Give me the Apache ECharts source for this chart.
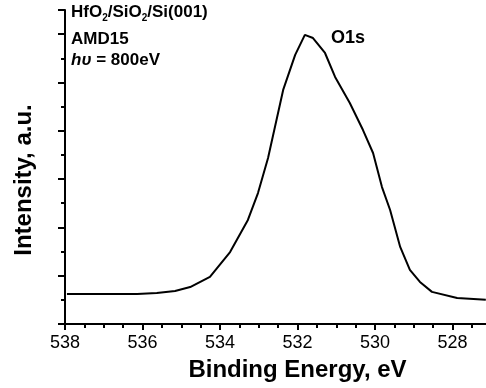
<!DOCTYPE html>
<html>
<head>
    <meta charset="utf-8">
    <script src="https://cdn.jsdelivr.net/npm/echarts@6/dist/echarts.min.js"></script>
    <style>
        html, body { margin: 0; padding: 0; background: #fff; }
    </style>
</head>
<body>
<div id="main" style="width: 486px;height:388px;"></div>

<script type="text/javascript">
    // binding energy (eV) and intensity (a.u.)
    var energy = [537.95, 537.02, 536.14, 535.63, 535.16, 534.77, 534.26, 533.74, 533.28, 533.02,
        532.76, 532.37, 532.06, 531.81, 531.60, 531.29, 531.03, 530.65, 530.31, 530.05,
        529.82, 529.61, 529.35, 529.10, 528.84, 528.53, 527.88, 527.14];
    var intensity = [1.24, 1.24, 1.24, 1.28, 1.37, 1.53, 1.95, 2.98, 4.31, 5.42,
        6.87, 9.69, 11.14, 11.97, 11.84, 11.22, 10.23, 9.15, 8.03, 7.08,
        5.67, 4.72, 3.19, 2.24, 1.74, 1.33, 1.08, 1.00];

    var xTicks = [538, 536, 534, 532, 530, 528];

    var points = [];
    for (var i = 0; i < energy.length; i++) {
        points.push([energy[i], intensity[i]]);
    }

    var font = 'Liberation Sans, Arial, sans-serif';
    var myChart = echarts.init(document.getElementById('main'));

    var option = {
        animation: false,
        grid: { left: 65, top: 10, bottom: 64, right: -44, containLabel: false, outerBoundsMode: 'none' },
        xAxis: {
            type: 'value',
            inverse: true,
            min: 526,
            max: 538,
            interval: 2,
            name: 'Binding Energy, eV',
            nameLocation: 'middle',
            nameGap: 34,
            nameTextStyle: { color: '#000', fontFamily: font, fontWeight: 'bold', fontSize: 24 },
            axisLine: { lineStyle: { color: '#000', width: 2 } },
            axisTick: { length: 6, lineStyle: { color: '#000', width: 2 } },
            minorTick: { show: true, splitNumber: 4, length: 4, lineStyle: { color: '#000', width: 2 } },
            splitLine: { show: false },
            axisLabel: {
                color: '#000', fontFamily: font, fontSize: 18, margin: 10,
                formatter: function (v) { return xTicks.indexOf(v) >= 0 ? String(v) : ''; }
            }
        },
        yAxis: {
            type: 'value',
            min: 0,
            max: 13,
            interval: 2,
            axisLine: { show: true, lineStyle: { color: '#000', width: 2 } },
            axisTick: { show: true, length: 7, lineStyle: { color: '#000', width: 2 } },
            minorTick: { show: true, splitNumber: 2, length: 4, lineStyle: { color: '#000', width: 2 } },
            splitLine: { show: false },
            axisLabel: { show: false }
        },
        series: [{
            type: 'line',
            data: points,
            symbol: 'none',
            smooth: false,
            lineStyle: { color: '#000', width: 2 }
        }],
        graphic: [
            {
                type: 'text', x: 24, y: 180, rotation: Math.PI / 2,
                style: {
                    text: 'Intensity, a.u.', align: 'center', verticalAlign: 'middle',
                    fontFamily: font, fontWeight: 'bold', fontSize: 24, fill: '#000'
                }
            },
            {
                type: 'text', left: 71, top: 3,
                style: {
                    text: '{m|HfO}{s|2}{m|/SiO}{s|2}{m|/Si(001)}',
                    rich: {
                        m: { fontFamily: font, fontWeight: 'bold', fontSize: 17, fill: '#000', lineHeight: 22 },
                        s: { fontFamily: font, fontWeight: 'bold', fontSize: 10, fill: '#000', lineHeight: 22, verticalAlign: 'bottom', padding: [10, 0, 0, 0] }
                    }
                }
            },
            {
                type: 'text', left: 71, top: 31,
                style: { text: 'AMD15', fontFamily: font, fontWeight: 'bold', fontSize: 17, fill: '#000' }
            },
            {
                type: 'text', left: 71, top: 52,
                style: {
                    text: '{i|hυ}{m| = 800eV}',
                    rich: {
                        i: { fontFamily: font, fontWeight: 'bold', fontStyle: 'italic', fontSize: 17, fill: '#000' },
                        m: { fontFamily: font, fontWeight: 'bold', fontSize: 17, fill: '#000' }
                    }
                }
            },
            {
                type: 'text', left: 331, top: 29,
                style: { text: 'O1s', fontFamily: font, fontWeight: 'bold', fontSize: 18, fill: '#000' }
            }
        ]
    };

    myChart.setOption(option);
</script>

</body>
</html>
